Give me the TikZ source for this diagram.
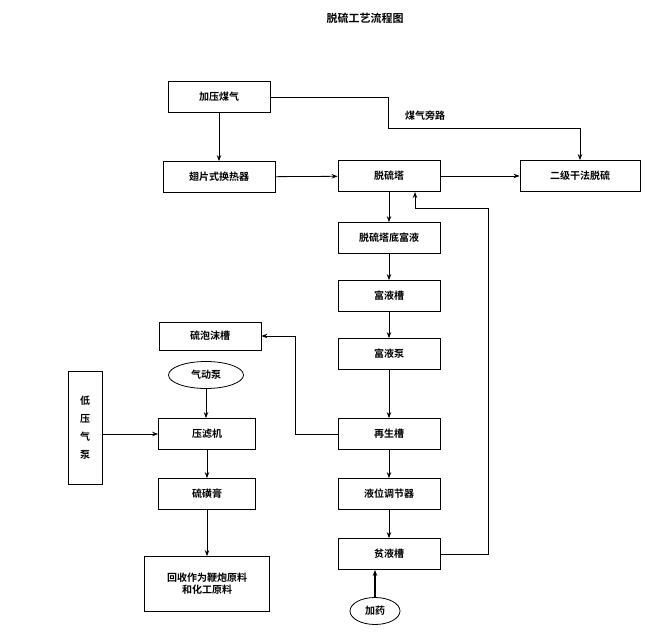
\documentclass[tikz,border=0pt]{standalone}
\usepackage{fontspec}
\setmainfont{Noto Sans CJK SC}[BoldFont={Noto Sans CJK SC Bold}]
\usetikzlibrary{positioning,shapes.geometric,arrows.meta}
\tikzset{
  box/.style={draw,thick,minimum width=102pt,minimum height=31pt,font=\fontsize{10}{12}\selectfont\bfseries},
  oval/.style={draw,thick,ellipse,minimum width=70pt,minimum height=27pt,font=\fontsize{10}{12}\selectfont\bfseries},
  flow/.style={thick,-{Stealth[length=6pt]}}
}
\begin{document}
\begin{tikzpicture}[x=1pt,y=-1pt]
  \useasboundingbox (0,0) rectangle (660,636);
  \node[font=\fontsize{11}{13}\selectfont\bfseries] (title) at (365,18) {脱硫工艺流程图};

  \node[box] (gas) at (219,97) {加压煤气};
  \node[box,minimum width=112pt] (hx) at (219,177) {翅片式换热器};
  \node[box] (tower) at (389,176) {脱硫塔};
  \node[box,minimum width=120pt] (dry) at (580,176) {二级干法脱硫};
  \node[box] (rich0) at (389,238) {脱硫塔底富液};
  \node[box] (richtank) at (389,296) {富液槽};
  \node[box] (pump) at (389,354) {富液泵};
  \node[box] (regen) at (389,434) {再生槽};
  \node[box] (level) at (389,494) {液位调节器};
  \node[box] (lean) at (389,554) {贫液槽};
  \node[oval,minimum width=50pt] (dose) at (375,611) {加药};

  \node[box,minimum height=28pt] (foam) at (210,336) {硫泡沫槽};
  \node[oval,minimum width=75pt] (air) at (206,375) {气动泵};
  \node[box,minimum width=34pt,minimum height=113pt,align=center] (lowp) at (85,428) {低\\[6pt]压\\[6pt]气\\[6pt]泵};
  \node[box,minimum width=97pt] (press) at (207,434) {压滤机};
  \node[box,minimum width=97pt] (paste) at (207,494) {硫磺膏};
  \node[box,minimum width=125pt,minimum height=55pt,align=center] (reuse) at (207,584) {回收作为鞭炮原料\\和化工原料};

  % main gas line
  \draw[flow] (gas) -- (hx);
  \draw[flow] (hx) -- (tower);
  \draw[flow] (tower) -- (dry);
  \draw[flow] (gas.east) -- (388,97) -- (388,128) -- (580,128) -- (dry.north);
  \node[font=\fontsize{10}{12}\selectfont\bfseries] (bypass) at (425,116) {煤气旁路};

  % liquid loop
  \draw[flow] (tower) -- (rich0);
  \draw[flow] (rich0) -- (richtank);
  \draw[flow] (richtank) -- (pump);
  \draw[flow] (pump) -- (regen);
  \draw[flow] (regen) -- (level);
  \draw[flow] (level) -- (lean);
  \draw[flow,very thick] (dose) -- (dose |- lean.south);
  \draw[flow] (lean.east) -- (488,554) -- (488,208) -- (415,208) -- (415,192);

  % sulfur line
  \draw[flow] (regen.west) -- (295,434) -- (295,336) -- (foam.east);
  \draw[flow] (air) -- (air |- press.north);
  \draw[flow] (lowp.east |- press) -- (press);
  \draw[flow] (press) -- (paste);
  \draw[flow] (paste) -- (reuse);
\end{tikzpicture}
\end{document}
